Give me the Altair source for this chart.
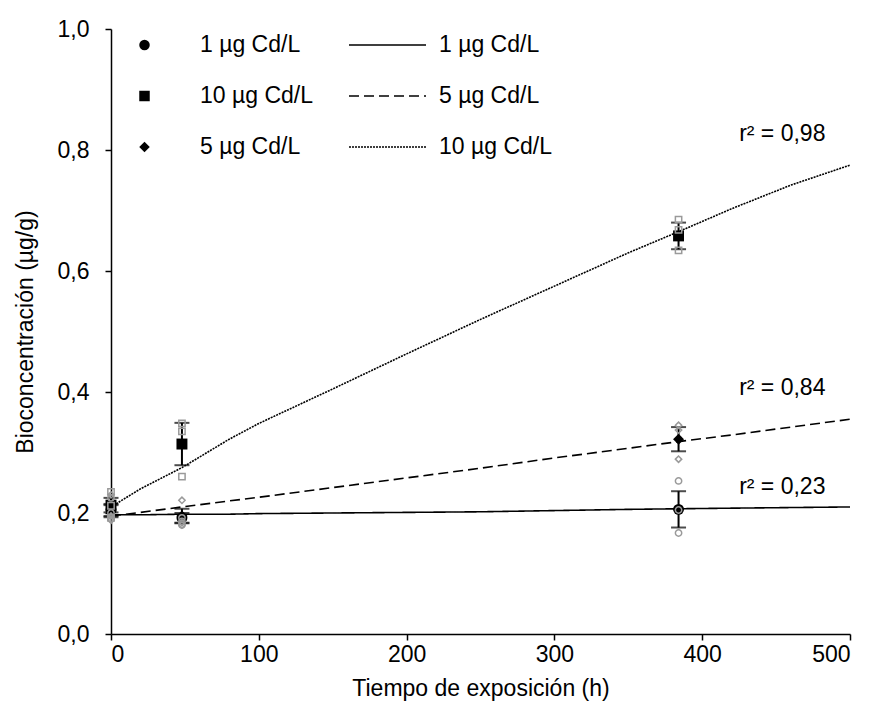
import altair as alt
import pandas as pd

# ---------------- data ----------------
times = [0, 48, 384]
series = ["1 µg Cd/L", "10 µg Cd/L", "5 µg Cd/L"]

mean_1 = [0.205, 0.192, 0.206]
err_1 = [0.010, 0.008, 0.030]
mean_5 = [0.203, 0.195, 0.322]
err_5 = [0.010, 0.012, 0.020]
mean_10 = [0.213, 0.314, 0.658]
err_10 = [0.012, 0.035, 0.022]

rep_1 = [[0.225, 0.200, 0.190], [0.192, 0.186, 0.180], [0.253, 0.205, 0.167]]
rep_5 = [[0.230, 0.195, 0.188], [0.221, 0.184, 0.180], [0.345, 0.337, 0.289]]
rep_10 = [[0.235, 0.212, 0.192], [0.348, 0.335, 0.260], [0.685, 0.668, 0.634]]

fit_names = ["1 µg Cd/L", "5 µg Cd/L", "10 µg Cd/L"]
fit_t = [0, 20, 48, 80, 100, 150, 200, 250, 300, 350, 384, 420, 460, 500]
fit_1 = [0.197, 0.197, 0.198, 0.198, 0.199, 0.200, 0.201, 0.202, 0.204, 0.206, 0.207, 0.208, 0.209, 0.210]
fit_5 = [0.195, 0.201, 0.210, 0.220, 0.226, 0.242, 0.258, 0.274, 0.291, 0.307, 0.318, 0.329, 0.342, 0.355]
fit_10 = [0.210, 0.240, 0.275, 0.322, 0.348, 0.405, 0.463, 0.520, 0.575, 0.630, 0.665, 0.703, 0.742, 0.775]

r2_labels = ["r² = 0,98", "r² = 0,84", "r² = 0,23"]
r2_x = [425, 425, 425]
r2_y = [0.826, 0.407, 0.243]

# ---------------- tables ----------------
means = {"1 µg Cd/L": (mean_1, err_1, rep_1),
         "10 µg Cd/L": (mean_10, err_10, rep_10),
         "5 µg Cd/L": (mean_5, err_5, rep_5)}

mrows, rrows = [], []
for s in series:
    m, e, r = means[s]
    for i, t in enumerate(times):
        mrows.append({"t": t, "v": m[i], "lo": m[i] - e[i], "hi": m[i] + e[i], "serie": s})
        for val in r[i]:
            rrows.append({"t": t, "v": val, "serie": s})
mdf = pd.DataFrame(mrows)
rdf = pd.DataFrame(rrows)

frows = []
for name, vals in zip(fit_names, [fit_1, fit_5, fit_10]):
    for t, v in zip(fit_t, vals):
        frows.append({"t": t, "v": v, "ajuste": name})
fdf = pd.DataFrame(frows)

tdf = pd.DataFrame({"t": r2_x, "v": r2_y, "label": r2_labels})

FONT = "Liberation Sans"
FS = 23

xs = alt.Scale(domain=[0, 500], nice=False)
ys = alt.Scale(domain=[0, 1], nice=False)

x_axis = alt.Axis(values=[0, 100, 200, 300, 400, 500], title="Tiempo de exposición (h)",
                  grid=False, labelPadding=3, titlePadding=11, tickSize=6)
y_axis = alt.Axis(values=[0, 0.2, 0.4, 0.6, 0.8, 1.0], title="Bioconcentración (µg/g)",
                  grid=False, labelExpr="replace(format(datum.value, '.1f'), '.', ',')",
                  labelPadding=16, titlePadding=20, tickSize=6)

X = alt.X("t:Q", scale=xs, axis=x_axis)
Y = alt.Y("v:Q", scale=ys, axis=y_axis)

lines = alt.Chart(fdf).mark_line(color="black", strokeWidth=1.6).encode(
    x=X, y=Y,
    strokeDash=alt.StrokeDash(
        "ajuste:N",
        scale=alt.Scale(domain=fit_names, range=[[1, 0], [10, 5], [2, 1]]),
        legend=alt.Legend(title=None, orient="none", legendX=237, legendY=1,
                          symbolSize=5929, symbolStrokeColor="black", symbolStrokeWidth=1.5,
                          labelFontSize=FS, labelFont=FONT, labelOffset=12,
                          clipHeight=30, rowPadding=21, padding=0, labelColor="black")),
    order="t:Q",
)

rules = alt.Chart(mdf).mark_rule(color="black", strokeWidth=2).encode(
    x="t:Q", y="lo:Q", y2="hi:Q")
caps_lo = alt.Chart(mdf).mark_tick(color="black", orient="horizontal", size=15, thickness=2).encode(
    x="t:Q", y="lo:Q")
caps_hi = alt.Chart(mdf).mark_tick(color="black", orient="horizontal", size=15, thickness=2).encode(
    x="t:Q", y="hi:Q")

pts = alt.Chart(mdf).mark_point(filled=True, color="black", opacity=1, size=120).encode(
    x="t:Q", y="v:Q",
    shape=alt.Shape(
        "serie:N",
        scale=alt.Scale(domain=series, range=["circle", "square", "diamond"]),
        legend=alt.Legend(title=None, orient="none", legendX=22, legendY=1,
                          symbolSize=110, symbolFillColor="black", symbolStrokeColor="black",
                          labelFontSize=FS, labelFont=FONT, labelOffset=44,
                          clipHeight=30, rowPadding=21, padding=0, labelColor="black")),
)

reps = alt.Chart(rdf).mark_point(filled=False, color="#9a9a9a", strokeWidth=1.5, size=40, opacity=1).encode(
    x="t:Q", y="v:Q",
    shape=alt.Shape("serie:N", legend=None),
)

texts = alt.Chart(tdf).mark_text(align="left", baseline="middle", font=FONT, fontSize=FS,
                                 color="black").encode(
    x="t:Q", y="v:Q", text="label:N")

chart = alt.layer(lines, rules, caps_lo, caps_hi, pts, reps, texts).properties(
    width=739, height=605,
    autosize=alt.AutoSizeParams(type="none"),
    padding={"left": 111, "top": 29, "right": 20, "bottom": 85},
).configure_view(stroke=None).configure_axis(
    domainColor="black", tickColor="black", labelColor="black", titleColor="black",
    labelFont=FONT, titleFont=FONT, labelFontSize=FS, titleFontSize=FS,
    titleFontWeight="normal", domainWidth=1.5, tickWidth=1.5,
)

chart.save("out.html", embed_options={"renderer": "svg", "actions": False})
